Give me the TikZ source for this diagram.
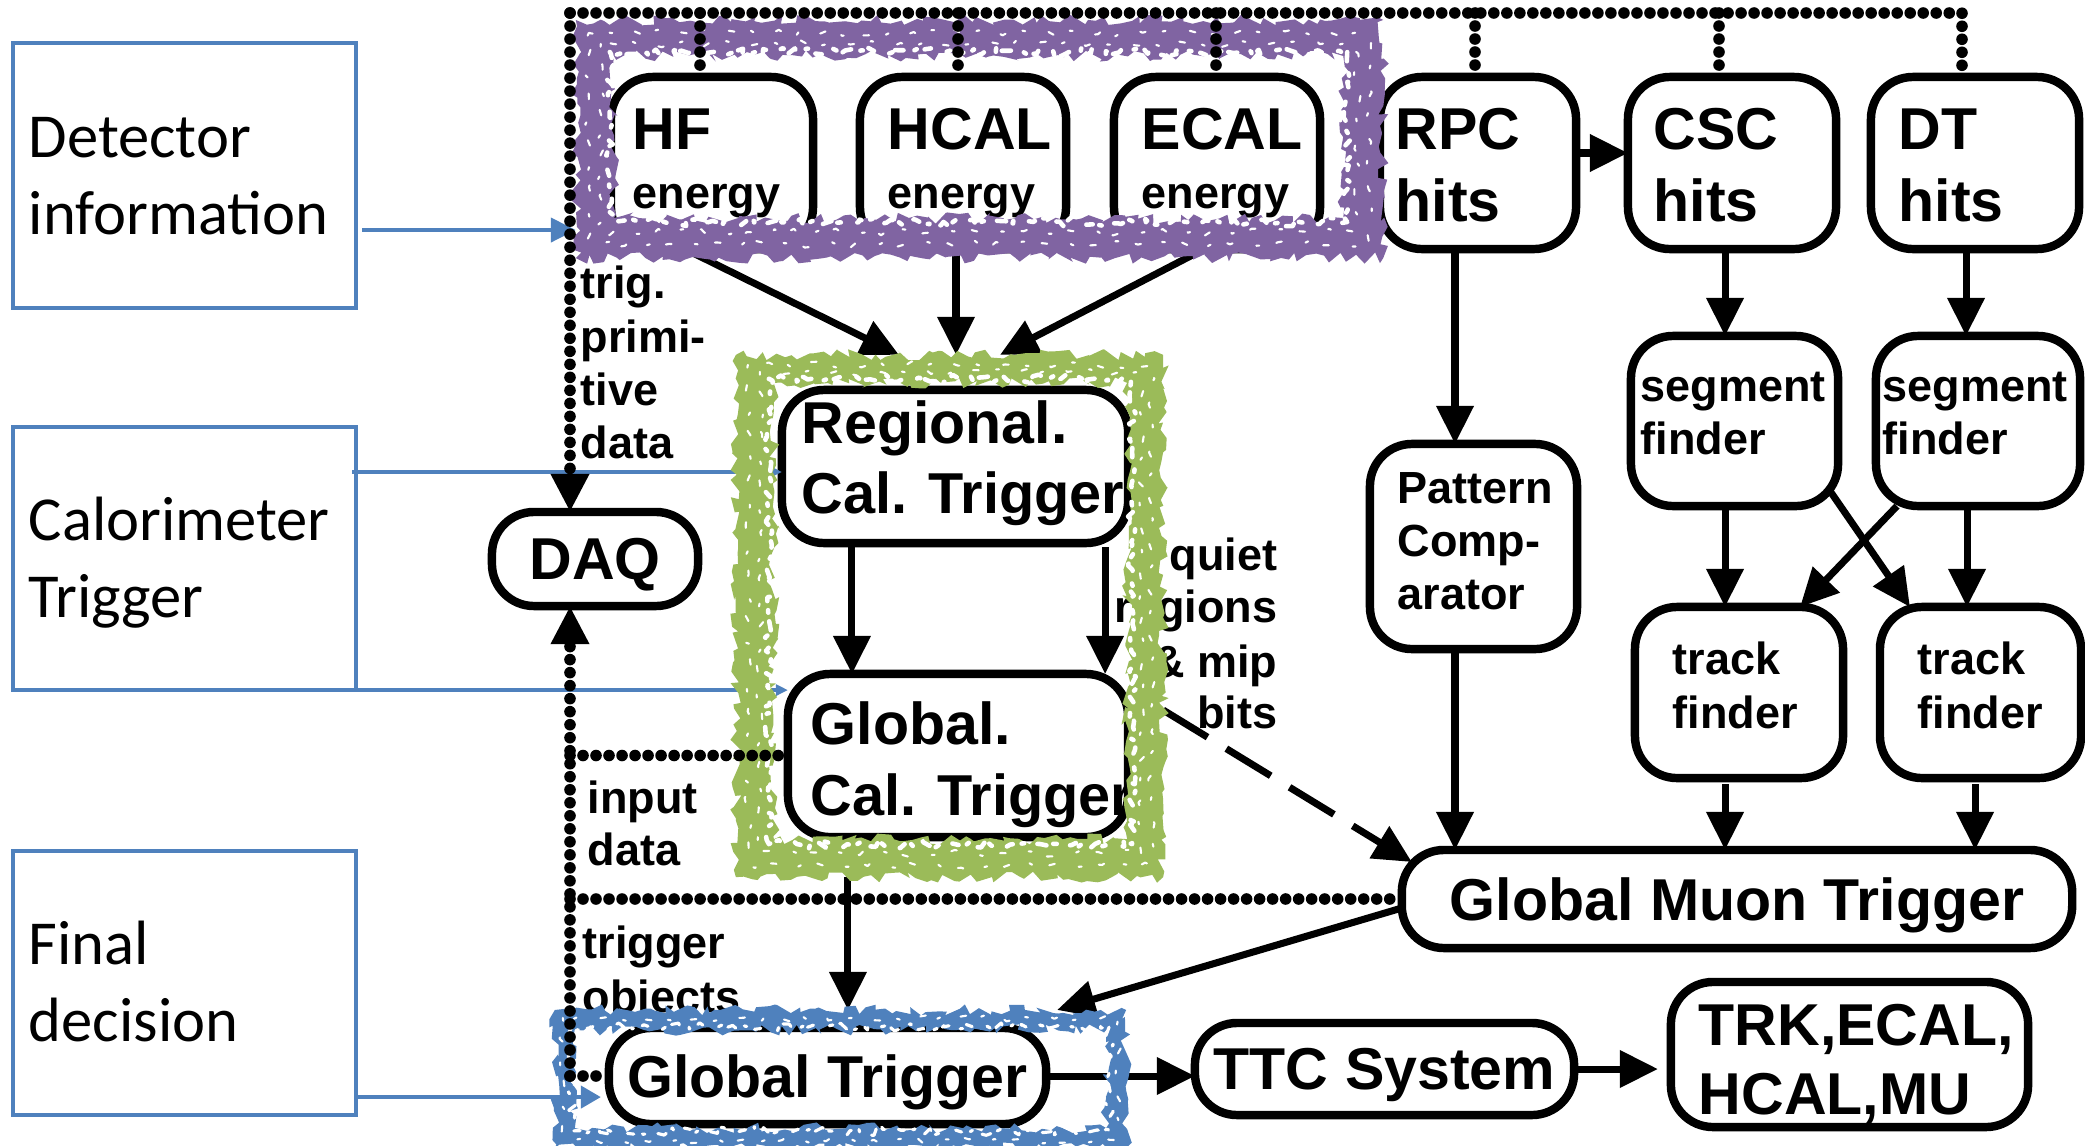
\documentclass[tikz,border=0pt]{standalone}
\usepackage{fontspec}
\usetikzlibrary{arrows.meta,decorations.pathmorphing}
\newfontfamily\hvfont{Liberation Sans}
\newfontfamily\calibfont{Carlito}
\newcommand\bigtxt{\hvfont\bfseries\fontsize{16.8pt}{18pt}\selectfont}
\newcommand\midtxt{\hvfont\bfseries\fontsize{16.4pt}{18pt}\selectfont}
\newcommand\smtxt{\hvfont\bfseries\fontsize{12.8pt}{14pt}\selectfont}
\newcommand\sidetxt{\calibfont\fontsize{17.8pt}{20pt}\selectfont}
\definecolor{framepurple}{HTML}{8064A2}
\definecolor{framegreen}{HTML}{9BBB59}
\definecolor{frameblue}{HTML}{4F81BD}
\tikzset{
  box/.style={draw, line width=2.4pt, rounded corners=0.42cm, inner sep=0pt, outer sep=0pt},
  cbox/.style={box, font=\bigtxt, text depth=0pt},
  sidebox/.style={draw=frameblue, line width=1.2pt, inner sep=0pt, outer sep=0pt},
  frame/.style={inner sep=0pt, outer sep=0pt},
  txt/.style={inner sep=0pt, anchor=base west},
  rtxt/.style={inner sep=0pt, anchor=base east},
  tip/.style={-{Triangle[length=0.38cm,width=0.36cm]}},
  arr/.style={line width=2pt, tip},
  dotbus/.style={line width=3.3pt, line cap=round, dash pattern=on 0pt off 3.7pt},
  bluearr/.style={frameblue, line width=1.2pt},
  band/.style={even odd rule, decorate, decoration={random steps, segment length=2pt, amplitude=1.6pt}},
  speck/.style={decorate, decoration={random steps, segment length=1.5pt, amplitude=1.2pt}, white, line width=1.3pt,
    line join=round, line cap=round,
    dash pattern=on 1.8pt off 2.6pt on 0.7pt off 3.8pt on 2.6pt off 2pt on 1pt off 5pt},
  fleck/.style={decorate, decoration={random steps, segment length=2pt, amplitude=1pt}, white, line width=0.6pt,
    line join=round, line cap=round, dash pattern=on 0.8pt off 5pt on 1.6pt off 7pt},
}
\pgfmathsetseed{7}
\begin{document}
\begin{tikzpicture}[x=0.01cm, y=-0.01cm]
\useasboundingbox (0,0) rectangle (2085,1145);

% ---- stage boxes on the left ----
\node[sidebox, minimum width=3.43cm, minimum height=2.65cm] (detbox) at (184.5,175.5) {};
\node[sidebox, minimum width=3.43cm, minimum height=2.63cm] (calbox) at (184.5,558.5) {};
\node[sidebox, minimum width=3.43cm, minimum height=2.64cm] (finbox) at (184.5,983) {};
\node[txt] (det-a) at (28,157) {\sidetxt Detector};
\node[txt] (det-b) at (28,234) {\sidetxt information};
\node[txt] (cal-a) at (28,540) {\sidetxt Calorimeter};
\node[txt] (cal-b) at (28,617) {\sidetxt Trigger};
\node[txt] (fin-a) at (28,964) {\sidetxt Final};
\node[txt] (fin-b) at (28,1041) {\sidetxt decision};

% ---- highlighted groups (outer extent) ----
\node[frame, minimum width=8.07cm, minimum height=2.38cm] (purpframe) at (979.5,139) {};
\node[frame, minimum width=4.27cm, minimum height=5.22cm] (calframe) at (949.5,616) {};
\node[frame, minimum width=5.71cm, minimum height=1.38cm] (gtframe) at (840.5,1079) {};

% ---- detector inputs ----
\node[box, minimum width=2.02cm, minimum height=1.72cm] (hf) at (712,163) {};
\node[box, minimum width=2.06cm, minimum height=1.72cm] (hcal) at (963,163) {};
\node[box, minimum width=2.06cm, minimum height=1.72cm] (ecal) at (1217,163) {};
\node[box, minimum width=1.96cm, minimum height=1.72cm] (rpc) at (1478,163) {};
\node[box, minimum width=2.08cm, minimum height=1.72cm] (csc) at (1732,163) {};
\node[box, minimum width=2.08cm, minimum height=1.72cm] (dt) at (1975,163) {};
\node[txt] (hf-a) at (632,149) {\bigtxt HF};
\node[txt] (hf-b) at (632,208) {\smtxt energy};
\node[txt] (hcal-a) at (887,149) {\bigtxt HCAL};
\node[txt] (hcal-b) at (887,208) {\smtxt energy};
\node[txt] (ecal-a) at (1141,149) {\bigtxt ECAL};
\node[txt] (ecal-b) at (1141,208) {\smtxt energy};
\node[txt] (rpc-a) at (1395,149) {\bigtxt RPC};
\node[txt] (rpc-b) at (1395,221) {\bigtxt hits};
\node[txt] (csc-a) at (1653,149) {\bigtxt CSC};
\node[txt] (csc-b) at (1653,221) {\bigtxt hits};
\node[txt] (dt-a) at (1898,149) {\bigtxt DT};
\node[txt] (dt-b) at (1898,221) {\bigtxt hits};

% ---- muon chain ----
\node[box, minimum width=2.07cm, minimum height=1.70cm] (seg1) at (1734.5,421) {};
\node[box, minimum width=2.04cm, minimum height=1.70cm] (seg2) at (1978,421) {};
\node[box, minimum width=2.07cm, minimum height=2.05cm] (pat) at (1473.5,546.5) {};
\node[box, minimum width=2.08cm, minimum height=1.71cm] (trk1) at (1739,692.5) {};
\node[box, minimum width=2.01cm, minimum height=1.71cm] (trk2) at (1980.5,692.5) {};
\node[txt] (seg1-a) at (1640,401) {\smtxt segment};
\node[txt] (seg1-b) at (1640,454) {\smtxt finder};
\node[txt] (seg2-a) at (1882,401) {\smtxt segment};
\node[txt] (seg2-b) at (1882,454) {\smtxt finder};
\node[txt] (pat-a) at (1397,503) {\smtxt Pattern};
\node[txt] (pat-b) at (1397,556) {\smtxt Comp-};
\node[txt] (pat-c) at (1397,609) {\smtxt arator};
\node[txt] (trk1-a) at (1672,674) {\smtxt track};
\node[txt] (trk1-b) at (1672,728) {\smtxt finder};
\node[txt] (trk2-a) at (1917,674) {\smtxt track};
\node[txt] (trk2-b) at (1917,728) {\smtxt finder};
\node[cbox, minimum width=6.70cm, minimum height=0.98cm] (gmt) at (1737,899) {Global Muon Trigger};

% ---- calorimeter chain ----
\node[box, minimum width=3.46cm, minimum height=1.53cm] (rct) at (955,466.5) {};
\node[box, minimum width=3.40cm, minimum height=1.63cm] (gct) at (958,755.5) {};
\node[txt] (rct-a) at (801,443) {\bigtxt Regional.};
\node[txt] (rct-b) at (801,513) {\midtxt Cal. Trigger};
\node[txt] (gct-a) at (810,744) {\bigtxt Global.};
\node[txt] (gct-b) at (810,815) {\midtxt Cal. Trigger};
\node[cbox, minimum width=2.06cm, minimum height=0.94cm] (daq) at (595,559) {DAQ};

% ---- final decision ----
\node[cbox, minimum width=4.37cm, minimum height=0.96cm] (gt) at (827.5,1076) {Global Trigger};
\node[cbox, minimum width=3.79cm, minimum height=0.92cm] (ttc) at (1384.5,1069) {TTC System};
\node[box, minimum width=3.57cm, minimum height=1.45cm] (trk) at (1849.5,1054.5) {};
\node[txt] (trk-a) at (1698,1045) {\bigtxt TRK,ECAL,};
\node[txt] (trk-b) at (1698,1114) {\bigtxt HCAL,MU};

% ---- data flow ----
\draw[arr] ([xshift=-0.27cm]hf.south) -- ([xshift=-0.505cm]calframe.north);
\draw[arr] ([xshift=-0.07cm]hcal.south) -- ([xshift=-0.07cm]hcal.south |- calframe.north);
\draw[arr] ([xshift=-0.13cm]ecal.south) -- ([xshift=0.505cm]calframe.north);
\draw[arr] ([yshift=0.1cm]rpc.east) -- ([yshift=0.1cm]rpc.east -| csc.west);
\draw[arr] ([xshift=-0.23cm]rpc.south) -- ([xshift=-0.23cm]rpc.south |- pat.north);
\draw[arr] ([xshift=-0.07cm]csc.south) -- ([xshift=-0.07cm]csc.south |- seg1.north);
\draw[arr] ([xshift=-0.09cm]dt.south) -- ([xshift=-0.09cm]dt.south |- seg2.north);
\draw[arr] ([xshift=-0.095cm]seg1.south) -- ([xshift=-0.095cm]seg1.south |- trk1.north);
\draw[arr] ([xshift=-0.11cm]seg2.south) -- ([xshift=-0.11cm]seg2.south |- trk2.north);
\draw[arr] ([shift={(-0.08cm,0.15cm)}]seg1.south east) -- ([xshift=0.3cm]trk2.north west);
\draw[arr] ([xshift=0.21cm]seg2.south west) -- ([xshift=-0.43cm]trk1.north east);
\draw[arr, shorten <=0.06cm] ([xshift=-0.14cm]trk1.south) -- ([xshift=-0.14cm]trk1.south |- gmt.north);
\draw[arr, shorten <=0.06cm] ([xshift=-0.055cm]trk2.south) -- ([xshift=-0.055cm]trk2.south |- gmt.north);
\draw[arr] ([xshift=-0.185cm]pat.south) -- ([xshift=-0.185cm]pat.south |- gmt.north);
\draw[arr, shorten <=0.04cm] ([xshift=-1.03cm]rct.south) -- ([xshift=-1.03cm]rct.south |- gct.north);
\draw[arr, shorten <=0.04cm] ([xshift=1.5cm]rct.south) -- ([xshift=1.5cm]rct.south |- gct.north);
\draw[arr] ([xshift=-1.015cm]calframe.south) -- ([xshift=-1.015cm]calframe.south |- gtframe.north);
\draw[arr] ([yshift=-0.09cm]gmt.west) -- ([xshift=-0.69cm]gtframe.north east);
\draw[arr, dash pattern=on 0.52cm off 0.22cm] ([yshift=-0.94cm]calframe.east) -- ([shift={(0.1cm,-0.12cm)}]gmt.north west);
\draw[arr] (gt.east) -- (gt.east -| ttc.west);
\draw[arr, shorten >=0.13cm] (ttc.east) -- (ttc.east -| trk.west);

% ---- side labels ----
\node[txt] (lab-t1) at (580,298) {\smtxt trig.};
\node[txt] (lab-t2) at (580,352) {\smtxt primi-};
\node[txt] (lab-t3) at (580,405) {\smtxt tive};
\node[txt] (lab-t4) at (580,458) {\smtxt data};
\node[txt] (lab-i1) at (587,813) {\smtxt input};
\node[txt] (lab-i2) at (587,865) {\smtxt data};
\node[txt] (lab-o1) at (582,958) {\smtxt trigger};
\node[txt] (lab-o2) at (582,1012) {\smtxt objects};
\node[rtxt] (lab-q1) at (1278,570) {\smtxt quiet};
\node[rtxt] (lab-q2) at (1278,622) {\smtxt regions};
\node[rtxt] (lab-q3) at (1278,677) {\smtxt \& mip};
\node[rtxt] (lab-q4) at (1278,728) {\smtxt bits};

% ---- stage pointers ----
\coordinate (detout) at ([shift={(0.06cm,-0.545cm)}]detbox.east);
\coordinate (calout) at ([shift={(-0.04cm,-0.45cm)}]calbox.north east);
\coordinate (finout) at ([yshift=-1.14cm]finbox.east);
\draw[bluearr, -{Triangle[length=0.25cm,width=0.24cm]}] (detout) -- (detout -| purpframe.west);
\draw[bluearr, -{Triangle[length=0.12cm,width=0.11cm]}] (calout) -- (calout -| rct.west);
\draw[bluearr, -{Triangle[length=0.12cm,width=0.11cm]}] (calbox.south east) -- (calbox.south east -| gct.west);
\draw[bluearr, shorten >=0.08cm, -{Triangle[length=0.2cm,width=0.22cm]}] (finout) -- (finout -| gt.west);

% ---- rough highlight bands (outer edge minus inner edge) ----
\fill[band, framepurple] (purpframe.north west) rectangle (purpframe.south east)
  ([shift={(0.38cm,-0.36cm)}]purpframe.north west) rectangle ([shift={(-0.4cm,0.4cm)}]purpframe.south east);
\draw[speck] ([shift={(0.34cm,-0.32cm)}]purpframe.north west) rectangle ([shift={(-0.36cm,0.36cm)}]purpframe.south east);
\draw[fleck] ([shift={(0.25cm,-0.24cm)}]purpframe.north west) rectangle ([shift={(-0.26cm,0.26cm)}]purpframe.south east);
\draw[fleck] ([shift={(0.13cm,-0.13cm)}]purpframe.north west) rectangle ([shift={(-0.14cm,0.14cm)}]purpframe.south east);
\fill[band, framegreen] (calframe.north west) rectangle (calframe.south east)
  ([shift={(0.38cm,-0.28cm)}]calframe.north west) rectangle ([shift={(-0.36cm,0.38cm)}]calframe.south east);
\draw[speck] ([shift={(0.33cm,-0.24cm)}]calframe.north west) rectangle ([shift={(-0.31cm,0.33cm)}]calframe.south east);
\draw[fleck] ([shift={(0.24cm,-0.17cm)}]calframe.north west) rectangle ([shift={(-0.22cm,0.24cm)}]calframe.south east);
\draw[fleck] ([shift={(0.12cm,-0.1cm)}]calframe.north west) rectangle ([shift={(-0.12cm,0.12cm)}]calframe.south east);
\fill[band, frameblue] (gtframe.north west) rectangle (gtframe.south east)
  ([shift={(0.2cm,-0.2cm)}]gtframe.north west) rectangle ([shift={(-0.2cm,0.2cm)}]gtframe.south east);
\draw[speck, line width=0.9pt] ([shift={(0.17cm,-0.17cm)}]gtframe.north west) rectangle ([shift={(-0.17cm,0.17cm)}]gtframe.south east);
\draw[fleck] ([shift={(0.08cm,-0.08cm)}]gtframe.north west) rectangle ([shift={(-0.08cm,0.08cm)}]gtframe.south east);

% ---- readout bus to DAQ ----
\coordinate (tl) at (570,13);
\draw[dotbus] (tl) -- ([xshift=-0.13cm]dt.north |- tl) -- ([xshift=-0.13cm]dt.north);
\draw[dotbus] ([xshift=-0.12cm]hf.north |- tl) -- ([xshift=-0.12cm]hf.north);
\draw[dotbus] ([xshift=-0.05cm]hcal.north |- tl) -- ([xshift=-0.05cm]hcal.north);
\draw[dotbus] ([xshift=-0.01cm]ecal.north |- tl) -- ([xshift=-0.01cm]ecal.north);
\draw[dotbus] ([xshift=-0.03cm]rpc.north |- tl) -- ([xshift=-0.03cm]rpc.north);
\draw[dotbus] ([xshift=-0.13cm]csc.north |- tl) -- ([xshift=-0.13cm]csc.north);
\draw[dotbus, tip] (tl) -- (tl |- daq.north);
\draw[dotbus, tip] (tl |- gt.west) -- (tl |- daq.south);
\draw[dotbus] (tl |- gct.west) -- (gct.west);
\draw[dotbus] (tl |- gmt.west) -- (gmt.west);
\draw[dotbus] (tl |- gt.west) -- (gt.west);
\end{tikzpicture}
\end{document}
